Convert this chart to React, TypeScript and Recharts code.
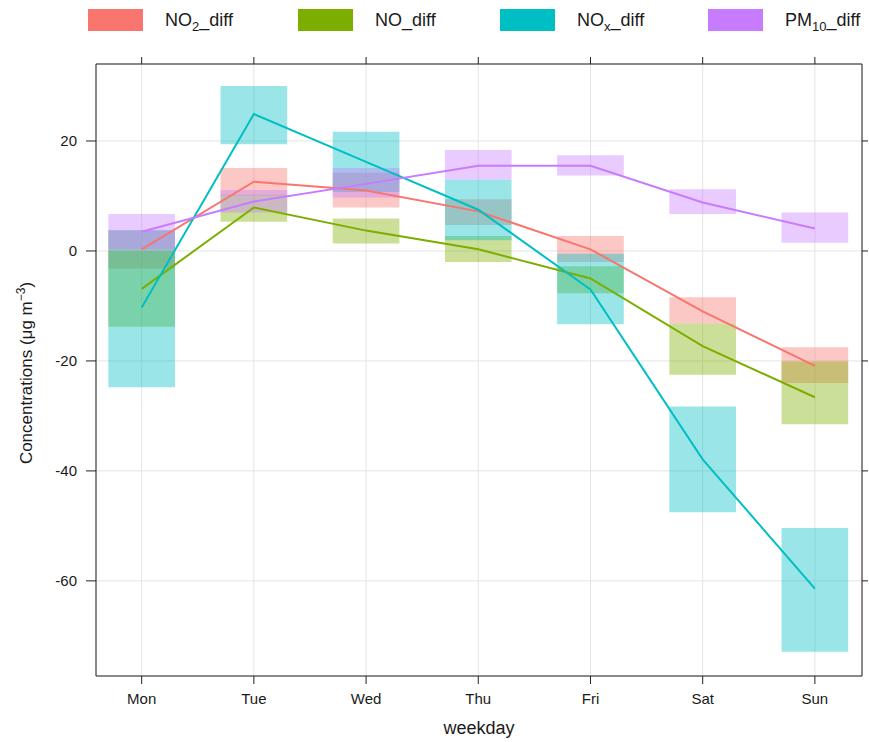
import {
  ComposedChart,
  Line,
  XAxis,
  YAxis,
  CartesianGrid,
  ReferenceArea,
} from "recharts";

const days = ["Mon", "Tue", "Wed", "Thu", "Fri", "Sat", "Sun"];
const yTicks = [-60, -40, -20, 0, 20];

// NO2_diff
const no2 = [0.3, 12.6, 11.0, 7.2, 0.3, -11.0, -20.9];
const no2Lo = [-3.2, 10.1, 7.9, 4.7, -2.0, -13.2, -24.0];
const no2Hi = [3.7, 15.1, 14.2, 9.4, 2.7, -8.4, -17.5];

// NO_diff
const no = [-6.9, 7.9, 3.7, 0.3, -5.0, -17.3, -26.6];
const noLo = [-13.8, 5.3, 1.35, -2.0, -7.7, -22.5, -31.5];
const noHi = [0.0, 10.2, 5.9, 2.7, -2.8, -13.2, -20.1];

// NOx_diff
const nox = [-10.3, 24.9, 16.2, 7.5, -7.0, -37.9, -61.4];
const noxLo = [-24.8, 19.4, 10.7, 1.95, -13.35, -47.5, -72.9];
const noxHi = [3.8, 30.0, 21.7, 13.0, -0.5, -28.3, -50.4];

// PM10_diff
const pm = [3.5, 9.0, 12.2, 15.5, 15.5, 8.8, 4.1];
const pmLo = [0.3, 7.0, 9.7, 13.0, 13.7, 6.7, 1.5];
const pmHi = [6.7, 11.1, 15.1, 18.35, 17.4, 11.2, 7.0];

const COLORS = {
  no2: "#F8766D",
  no: "#7CAE00",
  nox: "#00BFC4",
  pm: "#C77CFF",
};

const data = days.map((d, i) => ({
  idx: i,
  day: d,
  no2: no2[i],
  no: no[i],
  nox: nox[i],
  pm: pm[i],
}));

const bands = [
  { key: "no2", lo: no2Lo, hi: no2Hi },
  { key: "no", lo: noLo, hi: noHi },
  { key: "nox", lo: noxLo, hi: noxHi },
  { key: "pm", lo: pmLo, hi: pmHi },
] as const;

const xDomain = [-0.407, 6.42];
const yDomain = [-77.3, 34.0];
const font = "'Liberation Sans', Arial, sans-serif";
const axisColor = "#222";

const legendItems = [
  { key: "no2", left: 88, textLeft: 165, label: <>NO<Sub>2</Sub>_diff</> },
  { key: "no", left: 298, textLeft: 375, label: <>NO_diff</> },
  { key: "nox", left: 500, textLeft: 577, label: <>NO<Sub>x</Sub>_diff</> },
  { key: "pm", left: 708, textLeft: 785, label: <>PM<Sub>10</Sub>_diff</> },
];

function Sub({ children }: { children: React.ReactNode }) {
  return (
    <span style={{ fontSize: 13, position: "relative", top: 5 }}>{children}</span>
  );
}

export default function App() {
  return (
    <div
      style={{
        position: "absolute",
        left: 0,
        top: 0,
        width: 869,
        height: 742,
        background: "#fff",
        fontFamily: font,
        color: "#1a1a1a",
      }}
    >
      {legendItems.map((it) => (
        <div key={it.key}>
          <div
            style={{
              position: "absolute",
              left: it.left,
              top: 9,
              width: 55,
              height: 22,
              background: COLORS[it.key as keyof typeof COLORS],
            }}
          />
          <div
            style={{
              position: "absolute",
              left: it.textLeft,
              top: 11,
              fontSize: 18,
              lineHeight: "18px",
              whiteSpace: "nowrap",
            }}
          >
            {it.label}
          </div>
        </div>
      ))}

      <ComposedChart
        width={869}
        height={742}
        data={data}
        margin={{ top: 56, right: 0, bottom: 0, left: 0 }}
        style={{ position: "absolute", left: 0, top: 0 }}
      >
        <CartesianGrid stroke="#e4e4e4" strokeWidth={1} />
        <XAxis
          dataKey="idx"
          type="number"
          domain={xDomain}
          allowDataOverflow
          ticks={[0, 1, 2, 3, 4, 5, 6]}
          tickFormatter={(v: number) => days[v]}
          height={66}
          tickSize={8}
          tickMargin={9}
          stroke={axisColor}
          tick={{ fontSize: 15, fill: "#1a1a1a", fontFamily: font }}
        />
        <XAxis
          xAxisId="top"
          orientation="top"
          dataKey="idx"
          type="number"
          domain={xDomain}
          allowDataOverflow
          ticks={[0, 1, 2, 3, 4, 5, 6]}
          tickFormatter={() => ""}
          height={8}
          tickSize={7}
          stroke={axisColor}
        />
        <YAxis
          type="number"
          domain={yDomain}
          allowDataOverflow
          ticks={yTicks}
          width={96}
          tickSize={10}
          tickMargin={9}
          stroke={axisColor}
          tick={{ fontSize: 15, fill: "#1a1a1a", fontFamily: font }}
        />
        <YAxis
          yAxisId="right"
          orientation="right"
          type="number"
          domain={yDomain}
          allowDataOverflow
          ticks={yTicks}
          tickFormatter={() => ""}
          width={7}
          tickSize={6}
          stroke={axisColor}
        />

        {bands.map((b) =>
          days.map((_, i) => (
            <ReferenceArea
              key={`${b.key}-${i}`}
              x1={i - 0.297}
              x2={i + 0.297}
              y1={b.lo[i]}
              y2={b.hi[i]}
              fill={COLORS[b.key]}
              fillOpacity={0.4}
              stroke="none"
              ifOverflow="visible"
            />
          ))
        )}

        <Line
          dataKey="no2"
          type="linear"
          stroke={COLORS.no2}
          strokeWidth={2}
          dot={false}
          isAnimationActive={false}
        />
        <Line
          dataKey="no"
          type="linear"
          stroke={COLORS.no}
          strokeWidth={2}
          dot={false}
          isAnimationActive={false}
        />
        <Line
          dataKey="nox"
          type="linear"
          stroke={COLORS.nox}
          strokeWidth={2}
          dot={false}
          isAnimationActive={false}
        />
        <Line
          dataKey="pm"
          type="linear"
          stroke={COLORS.pm}
          strokeWidth={2}
          dot={false}
          isAnimationActive={false}
        />
      </ComposedChart>

      <div
        style={{
          position: "absolute",
          left: 479,
          top: 719,
          transform: "translateX(-50%)",
          fontSize: 18,
          lineHeight: "18px",
          whiteSpace: "nowrap",
        }}
      >
        weekday
      </div>
      <div
        style={{
          position: "absolute",
          left: 24,
          top: 373,
          transform: "translate(-50%, -50%) rotate(-90deg)",
          fontSize: 17,
          lineHeight: "17px",
          whiteSpace: "nowrap",
        }}
      >
        Concentrations (μg m<sup style={{ fontSize: 12 }}>−3</sup>)
      </div>
    </div>
  );
}
